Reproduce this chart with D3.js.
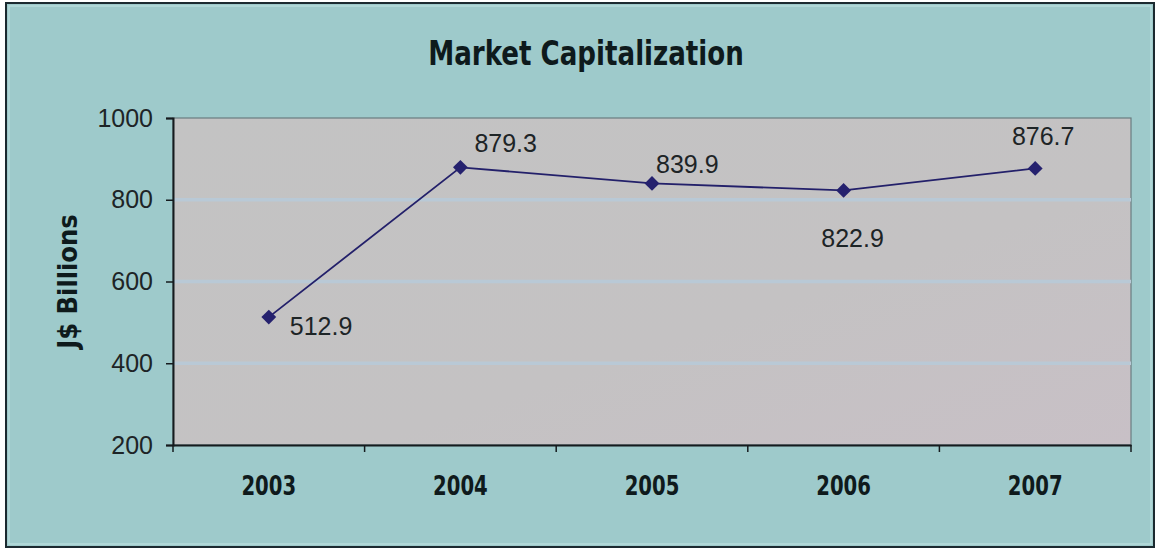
<!DOCTYPE html>
<html>
<head>
<meta charset="utf-8">
<script src="https://cdn.jsdelivr.net/npm/d3@7"></script>
<style>
  html, body { margin: 0; padding: 0; background: #ffffff; }
  svg { display: block; }
</style>
</head>
<body>
<svg id="chart" width="1159" height="550"></svg>
<script>
// Market capitalization, J$ billions, by year
const years = ["2003", "2004", "2005", "2006", "2007"];
const marketCap = [512.9, 879.3, 839.9, 822.9, 876.7];
const yTicks = [200, 400, 600, 800, 1000];
// label placement per point: dx, dy from the marker, text anchor
const labelPos = [
  { dx: 21, dy: 18, anchor: "start" },
  { dx: 14, dy: -15, anchor: "start" },
  { dx: 4, dy: -10, anchor: "start" },
  { dx: 9, dy: 57, anchor: "middle" },
  { dx: 8, dy: -23, anchor: "middle" }
];

const svg = d3.select("#chart");
const W = 1159, H = 550;
const plot = { left: 173, right: 1131, top: 118, bottom: 445 };
const boldFont = "'DejaVu Sans Condensed', 'DejaVu Sans', sans-serif";
const plainFont = "'Liberation Sans', Arial, sans-serif";

const defs = svg.append("defs");
const bgGrad = defs.append("linearGradient").attr("id", "plotBg")
  .attr("x1", "0").attr("y1", "0").attr("x2", "1").attr("y2", "1");
bgGrad.append("stop").attr("offset", "0%").attr("stop-color", "#c3c3c3");
bgGrad.append("stop").attr("offset", "60%").attr("stop-color", "#c4c2c3");
bgGrad.append("stop").attr("offset", "100%").attr("stop-color", "#c8c0c6");

// chart area background and frame
svg.append("rect").attr("x", 0).attr("y", 0).attr("width", W).attr("height", H).attr("fill", "#ffffff");
svg.append("rect").attr("x", 6).attr("y", 3).attr("width", 1148).attr("height", 544)
  .attr("fill", "#9ecacb").attr("stroke", "#1c2a30").attr("stroke-width", 2);
svg.append("rect").attr("x", 9).attr("y", 6).attr("width", 1142).attr("height", 538)
  .attr("fill", "none").attr("stroke", "#b6dcdc").attr("stroke-width", 1.5);

const x = d3.scaleBand().domain(years).range([plot.left, plot.right]);
const y = d3.scaleLinear().domain([200, 1000]).range([plot.bottom, plot.top]);

// plot area
svg.append("rect")
  .attr("x", plot.left).attr("y", plot.top)
  .attr("width", plot.right - plot.left).attr("height", plot.bottom - plot.top)
  .attr("fill", "url(#plotBg)").attr("stroke", "#6a7c80").attr("stroke-width", 1.2);

// horizontal gridlines
svg.append("g").selectAll("line")
  .data(yTicks.filter(t => t > 200 && t < 1000))
  .join("line")
  .attr("x1", plot.left).attr("x2", plot.right)
  .attr("y1", d => y(d)).attr("y2", d => y(d))
  .attr("stroke", "#b9c9d6").attr("stroke-width", 3.5);

// y axis
const yAxis = svg.append("g")
  .attr("transform", `translate(${plot.left},0)`)
  .call(d3.axisLeft(y).tickValues(yTicks).tickFormat(d3.format("d")).tickSize(7).tickPadding(13));
yAxis.select(".domain").attr("stroke", "#151b1e").attr("stroke-width", 2);
yAxis.selectAll(".tick line").attr("stroke", "#151b1e").attr("stroke-width", 1.5);
yAxis.selectAll(".tick text")
  .attr("font-family", plainFont)
  .attr("font-size", 25).attr("fill", "#1d2426");

// x axis
const xAxis = svg.append("g")
  .attr("transform", `translate(0,${plot.bottom})`)
  .call(d3.axisBottom(x).tickSize(0).tickPadding(31));
xAxis.select(".domain").attr("stroke", "#151b1e").attr("stroke-width", 2);
xAxis.selectAll(".tick text")
  .attr("font-family", boldFont)
  .attr("font-weight", "bold").attr("font-size", 27).attr("fill", "#0f1a1c")
  .attr("transform", "scale(0.81,1)");
// category separators
const bounds = years.map(d => x(d)).concat([plot.right]);
xAxis.selectAll(".sep").data(bounds).join("line")
  .attr("class", "sep")
  .attr("x1", d => d).attr("x2", d => d)
  .attr("y1", 0).attr("y2", 7)
  .attr("stroke", "#151b1e").attr("stroke-width", 1.5);

// title
svg.append("text")
  .attr("transform", "translate(586,65) scale(0.88,1)")
  .attr("text-anchor", "middle")
  .attr("font-family", boldFont)
  .attr("font-weight", "bold").attr("font-size", 33).attr("fill", "#0e1a1c")
  .text("Market Capitalization");

// y axis title
svg.append("text")
  .attr("transform", `translate(77,${(plot.top + plot.bottom) / 2}) rotate(-90)`)
  .attr("text-anchor", "middle")
  .attr("font-family", boldFont)
  .attr("font-weight", "bold").attr("font-size", 27).attr("fill", "#0e1a1c")
  .text("J$ Billions");

// series line
const cx = d => x(d) + x.bandwidth() / 2;
const pts = years.map((d, i) => ({ year: d, value: marketCap[i] }));
svg.append("path")
  .datum(pts)
  .attr("fill", "none").attr("stroke", "#23206a").attr("stroke-width", 1.8)
  .attr("d", d3.line().x(d => cx(d.year)).y(d => y(d.value)));

// diamond markers
svg.append("g").selectAll("path")
  .data(pts).join("path")
  .attr("transform", d => `translate(${cx(d.year)},${y(d.value)})`)
  .attr("d", d3.symbol().type(d3.symbolDiamond2).size(140))
  .attr("fill", "#25216e");

// value labels
svg.append("g").selectAll("text")
  .data(pts).join("text")
  .attr("x", (d, i) => cx(d.year) + labelPos[i].dx)
  .attr("y", (d, i) => y(d.value) + labelPos[i].dy)
  .attr("text-anchor", (d, i) => labelPos[i].anchor)
  .attr("font-family", plainFont)
  .attr("font-size", 25).attr("fill", "#1d2426")
  .text(d => d.value.toFixed(1));
</script>
</body>
</html>
